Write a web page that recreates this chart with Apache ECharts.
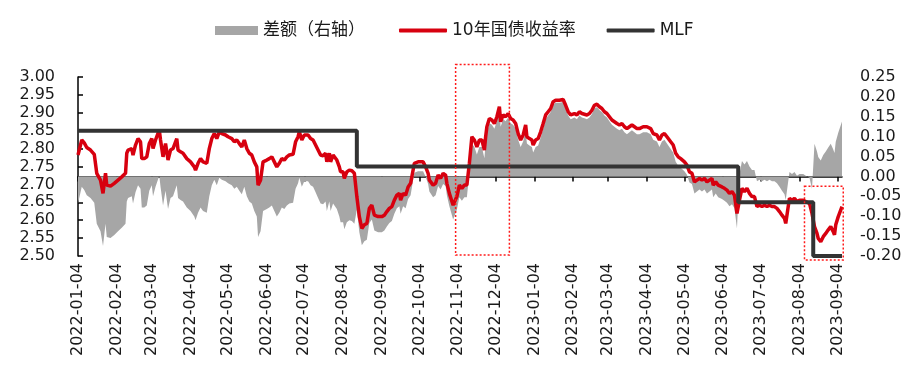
<!DOCTYPE html>
<html><head><meta charset="utf-8">
<script src="https://cdn.jsdelivr.net/npm/echarts@6.0.0/dist/echarts.min.js"></script>
<style>html,body{margin:0;padding:0;background:#fff}#c{width:924px;height:365px}</style>
</head><body><div id="c"></div>
<script>
// ---------------- DATA ----------------
const tickLabels = ['2022-01-04','2022-02-04','2022-03-04','2022-04-04','2022-05-04','2022-06-04','2022-07-04','2022-08-04','2022-09-04','2022-10-04','2022-11-04','2022-12-04','2023-01-04','2023-02-04','2023-03-04','2023-04-04','2023-05-04','2023-06-04','2023-07-04','2023-08-04','2023-09-04'];

const yieldDates = ['2022-01-04','2022-01-07','2022-01-09','2022-01-11','2022-01-14','2022-01-17','2022-01-18','2022-01-19','2022-01-22','2022-01-24','2022-01-26','2022-01-27','2022-01-30','2022-02-02','2022-02-05','2022-02-08','2022-02-11','2022-02-12','2022-02-13','2022-02-16','2022-02-17','2022-02-19','2022-02-21','2022-02-23','2022-02-24','2022-02-26','2022-02-28','2022-03-02','2022-03-04','2022-03-05','2022-03-07','2022-03-10','2022-03-11','2022-03-13','2022-03-15','2022-03-17','2022-03-19','2022-03-21','2022-03-23','2022-03-24','2022-03-25','2022-03-27','2022-03-29','2022-04-01','2022-04-04','2022-04-07','2022-04-08','2022-04-10','2022-04-12','2022-04-14','2022-04-15','2022-04-17','2022-04-19','2022-04-21','2022-04-23','2022-04-25','2022-04-27','2022-04-29','2022-05-02','2022-05-04','2022-05-07','2022-05-09','2022-05-11','2022-05-13','2022-05-15','2022-05-17','2022-05-19','2022-05-21','2022-05-23','2022-05-25','2022-05-27','2022-05-28','2022-05-30','2022-06-01','2022-06-04','2022-06-06','2022-06-08','2022-06-10','2022-06-12','2022-06-14','2022-06-16','2022-06-18','2022-06-20','2022-06-22','2022-06-25','2022-06-26','2022-06-27','2022-06-29','2022-06-30','2022-07-02','2022-07-04','2022-07-05','2022-07-07','2022-07-09','2022-07-11','2022-07-13','2022-07-15','2022-07-17','2022-07-19','2022-07-21','2022-07-22','2022-07-24','2022-07-25','2022-07-27','2022-07-28','2022-07-30','2022-08-01','2022-08-02','2022-08-04','2022-08-05','2022-08-07','2022-08-09','2022-08-11','2022-08-13','2022-08-15','2022-08-17','2022-08-19','2022-08-21','2022-08-23','2022-08-25','2022-08-27','2022-08-29','2022-09-01','2022-09-04','2022-09-06','2022-09-08','2022-09-10','2022-09-12','2022-09-14','2022-09-16','2022-09-18','2022-09-19','2022-09-21','2022-09-23','2022-09-25','2022-09-27','2022-09-30','2022-10-01','2022-10-03','2022-10-07','2022-10-09','2022-10-11','2022-10-12','2022-10-15','2022-10-17','2022-10-19','2022-10-21','2022-10-23','2022-10-25','2022-10-26','2022-10-28','2022-10-31','2022-11-03','2022-11-05','2022-11-07','2022-11-09','2022-11-11','2022-11-13','2022-11-15','2022-11-17','2022-11-19','2022-11-21','2022-11-23','2022-11-25','2022-11-26','2022-11-27','2022-11-29','2022-12-01','2022-12-03','2022-12-05','2022-12-07','2022-12-08','2022-12-10','2022-12-12','2022-12-14','2022-12-16','2022-12-18','2022-12-20','2022-12-22','2022-12-24','2022-12-26','2022-12-28','2022-12-29','2022-12-31','2023-01-02','2023-01-03','2023-01-05','2023-01-07','2023-01-09','2023-01-11','2023-01-13','2023-01-15','2023-01-17','2023-01-19','2023-01-21','2023-01-24','2023-01-27','2023-01-29','2023-01-31','2023-02-02','2023-02-05','2023-02-07','2023-02-09','2023-02-11','2023-02-13','2023-02-15','2023-02-17','2023-02-19','2023-02-21','2023-02-23','2023-02-25','2023-02-27','2023-03-01','2023-03-03','2023-03-05','2023-03-07','2023-03-09','2023-03-11','2023-03-13','2023-03-15','2023-03-17','2023-03-19','2023-03-21','2023-03-23','2023-03-25','2023-03-27','2023-03-29','2023-04-01','2023-04-04','2023-04-07','2023-04-08','2023-04-09','2023-04-12','2023-04-14','2023-04-16','2023-04-18','2023-04-20','2023-04-23','2023-04-25','2023-04-27','2023-04-29','2023-05-01','2023-05-04','2023-05-06','2023-05-08','2023-05-10','2023-05-12','2023-05-14','2023-05-16','2023-05-18','2023-05-20','2023-05-22','2023-05-24','2023-05-26','2023-05-27','2023-05-29','2023-05-31','2023-06-03','2023-06-05','2023-06-07','2023-06-09','2023-06-11','2023-06-13','2023-06-15','2023-06-17','2023-06-19','2023-06-21','2023-06-23','2023-06-25','2023-06-27','2023-06-29','2023-07-01','2023-07-03','2023-07-05','2023-07-07','2023-07-09','2023-07-11','2023-07-13','2023-07-15','2023-07-17','2023-07-19','2023-07-21','2023-07-23','2023-07-24','2023-07-26','2023-07-27','2023-07-29','2023-07-31','2023-08-02','2023-08-04','2023-08-05','2023-08-07','2023-08-09','2023-08-12','2023-08-14','2023-08-16','2023-08-18','2023-08-19','2023-08-21','2023-08-23','2023-08-25','2023-08-27','2023-08-29','2023-08-31','2023-09-01','2023-09-02','2023-09-04','2023-09-07'];

const yieldValues = [2.782,2.824,2.816,2.803,2.796,2.784,2.787,2.731,2.712,2.675,2.731,2.698,2.695,2.703,2.712,2.721,2.731,2.787,2.796,2.800,2.782,2.810,2.828,2.819,2.772,2.772,2.777,2.814,2.828,2.800,2.824,2.852,2.824,2.777,2.814,2.768,2.796,2.800,2.819,2.828,2.796,2.791,2.787,2.772,2.763,2.749,2.740,2.759,2.772,2.763,2.759,2.759,2.800,2.828,2.842,2.828,2.847,2.842,2.838,2.833,2.828,2.819,2.824,2.814,2.805,2.824,2.800,2.787,2.782,2.763,2.749,2.698,2.712,2.763,2.768,2.772,2.777,2.763,2.749,2.759,2.772,2.768,2.777,2.782,2.784,2.782,2.819,2.833,2.847,2.824,2.838,2.842,2.838,2.828,2.824,2.810,2.796,2.782,2.780,2.787,2.763,2.787,2.763,2.782,2.787,2.768,2.749,2.735,2.735,2.717,2.735,2.740,2.738,2.731,2.666,2.610,2.577,2.587,2.591,2.633,2.642,2.614,2.610,2.610,2.614,2.624,2.633,2.638,2.656,2.670,2.675,2.656,2.675,2.670,2.693,2.703,2.759,2.763,2.763,2.763,2.749,2.731,2.712,2.698,2.703,2.726,2.717,2.731,2.726,2.703,2.675,2.642,2.666,2.698,2.689,2.698,2.698,2.759,2.833,2.824,2.805,2.824,2.824,2.796,2.833,2.861,2.884,2.880,2.870,2.889,2.917,2.875,2.894,2.889,2.898,2.884,2.880,2.870,2.842,2.824,2.838,2.866,2.833,2.828,2.824,2.810,2.824,2.828,2.847,2.870,2.894,2.903,2.912,2.931,2.935,2.935,2.937,2.921,2.903,2.894,2.898,2.894,2.903,2.898,2.896,2.894,2.898,2.907,2.921,2.924,2.917,2.912,2.903,2.898,2.889,2.880,2.875,2.870,2.866,2.870,2.861,2.856,2.861,2.866,2.861,2.856,2.856,2.861,2.861,2.856,2.852,2.842,2.838,2.824,2.838,2.842,2.833,2.819,2.810,2.787,2.777,2.772,2.763,2.754,2.735,2.731,2.707,2.712,2.717,2.712,2.717,2.707,2.712,2.717,2.698,2.707,2.698,2.693,2.689,2.684,2.675,2.680,2.670,2.619,2.656,2.689,2.680,2.689,2.675,2.666,2.666,2.638,2.642,2.638,2.642,2.638,2.642,2.638,2.638,2.633,2.624,2.614,2.605,2.591,2.638,2.661,2.656,2.661,2.652,2.656,2.652,2.656,2.652,2.647,2.619,2.582,2.563,2.549,2.540,2.554,2.563,2.573,2.582,2.568,2.559,2.587,2.610,2.638];

// MLF rate: date each level took effect, and the level
const mlfDates = ['2022-01-04','2022-08-15','2023-06-16','2023-08-15'];
const mlfRates = [2.85, 2.75, 2.65, 2.50];

// dotted red annotation boxes (date range, value range on left axis)
const boxFrom = ['2022-11-02','2023-08-08'];
const boxTo = ['2022-12-15','2023-09-08'];
const boxTop = [3.035, 2.695];
const boxBottom = [2.503, 2.489];

const xMin = '2022-01-04', xMax = '2023-09-07';

// -------------- BUILD --------------
function ts(s){const p=s.split('-').map(Number);return Date.UTC(p[0],p[1]-1,p[2]);}
const tickTimes = tickLabels.map(ts);
function mlfAt(d){let r=mlfRates[0];for(let i=0;i<mlfDates.length;i++){if(mlfDates[i]<=d)r=mlfRates[i];}return r;}
const yieldData = yieldDates.map((d,i)=>[ts(d),yieldValues[i]]);
const spreadData = yieldDates.map((d,i)=>[ts(d),+(yieldValues[i]-mlfAt(d)).toFixed(3)]);
const mlfData = mlfDates.map((d,i)=>[ts(d),mlfRates[i]]).concat([[ts(yieldDates[yieldDates.length-1]), mlfRates[mlfRates.length-1]]]);

const FONT = "'DejaVu Sans', 'Noto Sans CJK SC', sans-serif";
const LFONT = "'DejaVu Sans', 'Noto Sans CJK SC', sans-serif";
const chart = echarts.init(document.getElementById('c'));
chart.setOption({
  animation:false,
  backgroundColor:'#fff',
  textStyle:{fontFamily:FONT},
  legend:[{
    top:22, left:215, padding:0, itemWidth:43, itemHeight:9, itemGap:5,
    textStyle:{fontSize:17,color:'#1a1a1a',fontFamily:LFONT},
    data:[{name:'差额（右轴）',icon:'rect'}]
  },{
    top:22, left:399, padding:0, itemWidth:48, itemHeight:4, itemGap:31,
    textStyle:{fontSize:17,color:'#1a1a1a',fontFamily:LFONT},
    data:[{name:'10年国债收益率',icon:'roundRect'},{name:'MLF',icon:'roundRect'}]
  }],
  grid:{left:78,right:82,top:77,bottom:109},
  xAxis:{
    type:'value', min:ts(xMin), max:ts(xMax),
    axisLine:{lineStyle:{color:'#000',width:1.5}},
    axisTick:{show:true,length:5,lineStyle:{color:'#000',width:1.5},customValues:tickTimes},
    axisLabel:{rotate:90,margin:7,fontSize:16,color:'#1a1a1a',fontFamily:FONT,
      customValues:tickTimes,
      formatter:function(v){let best=0,bd=Infinity;tickTimes.forEach((t,i)=>{const dd=Math.abs(t-v);if(dd<bd){bd=dd;best=i;}});return tickLabels[best];}},
    splitLine:{show:false}
  },
  yAxis:[{
    type:'value', min:2.5, max:3.0, interval:0.05,
    axisLine:{show:true,lineStyle:{color:'#000',width:1.5}},
    axisTick:{show:true,inside:true,length:5,lineStyle:{color:'#000',width:1.5}},
    axisLabel:{fontSize:16,color:'#1a1a1a',margin:23,fontFamily:FONT,formatter:v=>v.toFixed(2)},
    splitLine:{show:false}
  },{
    type:'value', min:-0.2, max:0.25, interval:0.05,
    axisLine:{show:false}, axisTick:{show:false},
    axisLabel:{fontSize:16,color:'#1a1a1a',margin:18,fontFamily:FONT,formatter:v=>(Math.abs(v)<1e-9?0:v).toFixed(2)},
    splitLine:{show:false}
  }],
  series:[{
    name:'差额（右轴）', type:'line', yAxisIndex:1, data:spreadData, symbol:'none',
    lineStyle:{width:0}, itemStyle:{color:'#a6a6a6'}, areaStyle:{color:'#a6a6a6',opacity:1}, z:1
  },{
    name:'10年国债收益率', type:'line', yAxisIndex:0, data:yieldData, symbol:'none',
    lineStyle:{width:3.5,color:'#d7000f'}, itemStyle:{color:'#d7000f'}, z:3
  },{
    name:'MLF', type:'line', yAxisIndex:0, data:mlfData, symbol:'none', step:'end',
    lineStyle:{width:4,color:'#333333'}, itemStyle:{color:'#333333'}, z:4
  }]
});
const boxes = boxFrom.map((f,i)=>{
  const p1 = chart.convertToPixel({xAxisIndex:0,yAxisIndex:0},[ts(f),boxTop[i]]);
  const p2 = chart.convertToPixel({xAxisIndex:0,yAxisIndex:0},[ts(boxTo[i]),boxBottom[i]]);
  return {type:'rect', z:100, shape:{x:p1[0],y:p1[1],width:p2[0]-p1[0],height:p2[1]-p1[1]},
    style:{fill:'none',stroke:'#ff1a1a',lineWidth:1.5,lineDash:[2,2]}};
});
chart.setOption({graphic:boxes});
</script></body></html>
